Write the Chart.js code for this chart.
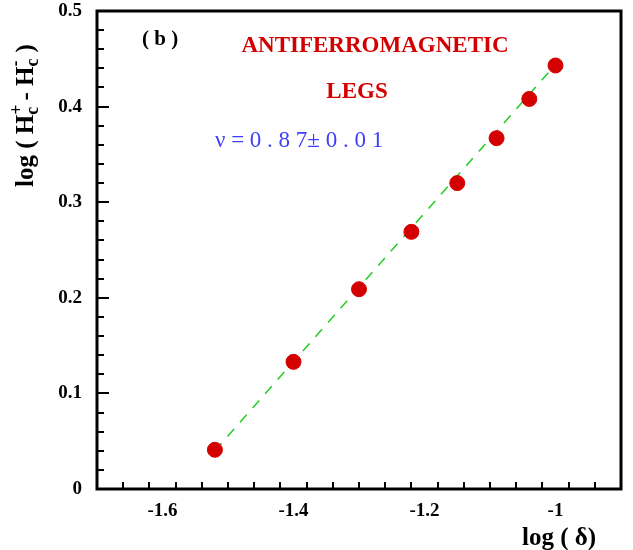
<!DOCTYPE html>
<html>
<head>
<meta charset="utf-8">
<script src="https://cdn.jsdelivr.net/npm/chart.js@4/dist/chart.umd.min.js"></script>
<style>
html,body{margin:0;padding:0;background:#fff;}
#wrap{width:633px;height:550px;}
</style>
</head>
<body>
<div id="wrap"><canvas id="c" width="633" height="550"></canvas></div>
<script>
// ---- data ----
const logDelta = [-1.52, -1.40, -1.30, -1.22, -1.15, -1.09, -1.04, -1.00];
const logH = [0.041, 0.133, 0.209, 0.269, 0.320, 0.367, 0.408, 0.443];
const fitX = [-1.52, -1.00];
const fitY = [0.040, 0.444];
const xTickValues = [-1.6, -1.4, -1.2, -1.0];
const xTickLabels = ['-1.6', '-1.4', '-1.2', '-1'];
const yTickValues = [0, 0.1, 0.2, 0.3, 0.4, 0.5];
const yTickLabels = ['0', '0.1', '0.2', '0.3', '0.4', '0.5'];
const xRange = [-1.7, -0.9];
const yRange = [0, 0.5];
const xMinorStep = 0.04;
const yMinorStep = 0.02;

const SERIF = '"Liberation Serif", "DejaVu Serif", serif';

const framePlugin = {
  id: 'frame',
  afterDraw(chart) {
    const ctx = chart.ctx;
    const a = chart.chartArea;
    const xs = chart.scales.x, ys = chart.scales.y;
    ctx.save();
    ctx.strokeStyle = '#000';
    // ticks (inward)
    ctx.lineWidth = 2;
    ctx.beginPath();
    const nx = Math.round((xRange[1] - xRange[0]) / xMinorStep);
    for (let i = 1; i < nx; i++) {
      const v = xRange[0] + i * xMinorStep;
      const major = xTickValues.some(t => Math.abs(t - v) < 1e-6);
      const px = Math.round(xs.getPixelForValue(v));
      ctx.moveTo(px, a.bottom);
      ctx.lineTo(px, a.bottom - (major ? 12 : 7));
    }
    const ny = Math.round((yRange[1] - yRange[0]) / yMinorStep);
    for (let i = 1; i < ny; i++) {
      const v = yRange[0] + i * yMinorStep;
      const major = yTickValues.some(t => Math.abs(t - v) < 1e-6);
      const py = Math.round(ys.getPixelForValue(v));
      ctx.moveTo(a.left, py);
      ctx.lineTo(a.left + (major ? 12 : 7), py);
    }
    ctx.stroke();
    // box
    ctx.lineWidth = 3;
    ctx.strokeRect(a.left, a.top, a.right - a.left, a.bottom - a.top);

    // annotations
    ctx.textBaseline = 'middle';
    ctx.fillStyle = '#000';
    ctx.font = 'bold 21px ' + SERIF;
    ctx.textAlign = 'left';
    ctx.fillText('( b )', 142, 40);

    ctx.fillStyle = '#d40000';
    ctx.font = 'bold 23px ' + SERIF;
    ctx.textAlign = 'center';
    ctx.fillText('ANTIFERROMAGNETIC', 375, 46);
    ctx.fillText('LEGS', 357, 92);

    ctx.fillStyle = '#3d3dff';
    ctx.font = '23px ' + SERIF;
    ctx.textAlign = 'left';
    ctx.fillText('\u03bd = 0 . 8 7\u00b1 0 . 0 1', 215, 141);

    // x title
    ctx.fillStyle = '#000';
    ctx.font = 'bold 25px ' + SERIF;
    ctx.textAlign = 'center';
    ctx.fillText('log ( \u03b4)', 559, 539);

    // y title (rotated, with super/subscripts)
    ctx.translate(25, 187);
    ctx.rotate(-Math.PI / 2);
    ctx.textAlign = 'left';
    ctx.textBaseline = 'alphabetic';
    const big = 'bold 25px ' + SERIF;
    const small = 'bold 18px ' + SERIF;
    let x = 0;
    const base = 8;
    function put(t, font, dy) {
      ctx.font = font;
      ctx.fillText(t, x, base + dy);
      return ctx.measureText(t).width;
    }
    x += put('log ( H', big, 0);
    const w1 = put('+', small, -11);
    put('c', small, 5);
    x += Math.max(w1, ctx.measureText('c').width) + 4;
    x += put('- H', big, 0);
    put('-', small, -12);
    put('c', small, 5);
    x += ctx.measureText('c').width + 6;
    put(')', big, 0);
    ctx.restore();
  }
};

new Chart(document.getElementById('c'), {
  type: 'scatter',
  data: {
    datasets: [
      {
        label: 'data',
        data: logDelta.map((v, i) => ({x: v, y: logH[i]})),
        backgroundColor: '#d40000',
        borderColor: '#d40000',
        pointRadius: 7.5,
        pointHoverRadius: 7.5,
        order: 0
      },
      {
        label: 'fit',
        type: 'line',
        data: fitX.map((v, i) => ({x: v, y: fitY[i]})),
        borderColor: '#22cc22',
        borderWidth: 1.5,
        borderDash: [10, 9],
        pointRadius: 0,
        fill: false,
        order: 1
      }
    ]
  },
  options: {
    responsive: false,
    animation: false,
    events: [],
    layout: {padding: {top: 11, right: 12, left: 0, bottom: 0}},
    plugins: {legend: {display: false}, tooltip: {enabled: false}},
    scales: {
      x: {
        type: 'linear',
        min: xRange[0], max: xRange[1],
        grid: {display: false, drawTicks: false},
        border: {display: false},
        afterBuildTicks: s => { s.ticks = xTickValues.map(v => ({value: v})); },
        afterFit: s => { s.height = 61; s.paddingLeft = 0; s.paddingRight = 0; },
        ticks: {
          padding: 11,
          color: '#000',
          maxRotation: 0,
          font: {family: SERIF, size: 19, weight: 'bold'},
          callback: (v) => { const i = xTickValues.findIndex(t => Math.abs(t - v) < 1e-6); return i >= 0 ? xTickLabels[i] : ''; }
        }
      },
      y: {
        type: 'linear',
        min: yRange[0], max: yRange[1],
        grid: {display: false, drawTicks: false},
        border: {display: false},
        afterBuildTicks: s => { s.ticks = yTickValues.map(v => ({value: v})); },
        afterFit: s => { s.width = 97; s.paddingTop = 0; s.paddingBottom = 0; },
        ticks: {
          padding: 15,
          color: '#000',
          font: {family: SERIF, size: 19, weight: 'bold'},
          callback: (v) => { const i = yTickValues.findIndex(t => Math.abs(t - v) < 1e-6); return i >= 0 ? yTickLabels[i] : ''; }
        }
      }
    }
  },
  plugins: [framePlugin]
});
</script>
</body>
</html>
